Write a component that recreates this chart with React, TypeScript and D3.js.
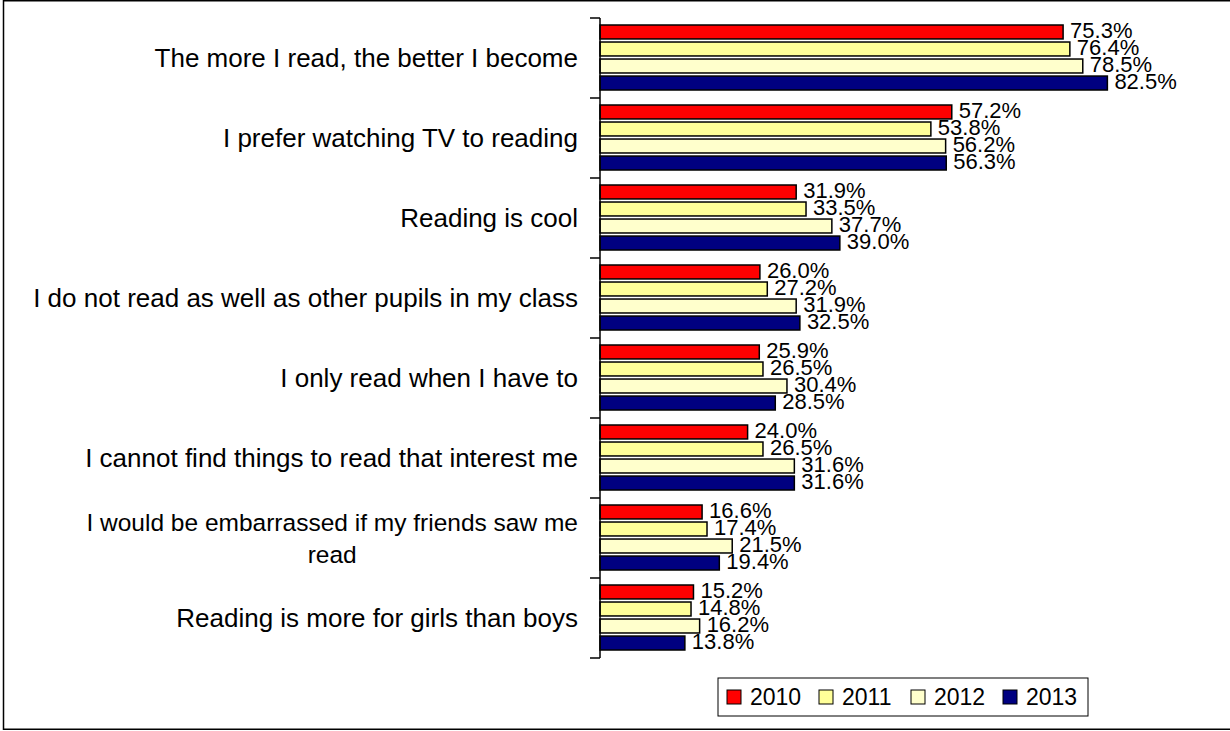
import React, { useEffect, useRef } from "react";
import * as d3 from "d3";

const categories: string[][] = [
  ["The more I read, the better I become"],
  ["I prefer watching TV to reading"],
  ["Reading is cool"],
  ["I do not read as well as other pupils in my class"],
  ["I only read when I have to"],
  ["I cannot find things to read that interest me"],
  ["I would be embarrassed if my friends saw me", "read"],
  ["Reading is more for girls than boys"],
];
const seriesNames = ["2010", "2011", "2012", "2013"];
const v2010 = [75.3, 57.2, 31.9, 26.0, 25.9, 24.0, 16.6, 15.2];
const v2011 = [76.4, 53.8, 33.5, 27.2, 26.5, 26.5, 17.4, 14.8];
const v2012 = [78.5, 56.2, 37.7, 31.9, 30.4, 31.6, 21.5, 16.2];
const v2013 = [82.5, 56.3, 39.0, 32.5, 28.5, 31.6, 19.4, 13.8];
const seriesValues = [v2010, v2011, v2012, v2013];
const colors = ["#FF0000", "#FFFF99", "#FFFFCC", "#000080"];

const W = 1230;
const H = 731;
const FONT = "'Liberation Sans', Arial, sans-serif";

export default function App() {
  const ref = useRef<SVGSVGElement | null>(null);
  useEffect(() => {
    const svg = d3.select(ref.current);
    svg.selectAll("*").remove();

    // outer border (right edge lies outside the picture)
    svg.append("rect").attr("x", 3.5).attr("y", 0.75).attr("width", W + 10).attr("height", H - 2.5)
      .attr("fill", "white").attr("stroke", "black").attr("stroke-width", 1.5);

    const x0 = 600;
    const x = d3.scaleLinear().domain([0, 100]).range([x0, x0 + 615]);
    const yOuter = d3.scaleBand<number>().domain(d3.range(categories.length)).range([18, 658]).padding(0);
    const yInner = d3.scaleBand<number>().domain(d3.range(seriesNames.length)).range([7, 72]).paddingInner(0.18);

    // bars
    seriesValues.forEach((vals, s) => {
      const g = svg.append("g");
      g.selectAll("rect").data(vals).enter().append("rect")
        .attr("x", x(0))
        .attr("y", (_d, i) => (yOuter(i) as number) + (yInner(s) as number))
        .attr("width", (d) => x(d) - x(0))
        .attr("height", yInner.bandwidth())
        .attr("fill", colors[s]).attr("stroke", "black").attr("stroke-width", 1.5);
    });
    // value labels
    seriesValues.forEach((vals, s) => {
      svg.append("g").selectAll("text").data(vals).enter().append("text")
        .attr("x", (d) => x(d) + 7)
        .attr("y", (_d, i) => (yOuter(i) as number) + (yInner(s) as number) + yInner.bandwidth() / 2 + 6)
        .attr("font-family", FONT).attr("font-size", 22).attr("fill", "black")
        .text((d) => d.toFixed(1) + "%");
    });

    // axis
    svg.append("line").attr("x1", x0).attr("x2", x0).attr("y1", 18).attr("y2", 658)
      .attr("stroke", "black").attr("stroke-width", 1.5);
    const ticks = d3.range(categories.length + 1).map((i) => 18 + i * yOuter.step());
    svg.append("g").selectAll("line").data(ticks).enter().append("line")
      .attr("x1", x0 - 10).attr("x2", x0).attr("y1", (d) => d).attr("y2", (d) => d)
      .attr("stroke", "black").attr("stroke-width", 1.5);

    // category labels
    const labelRight = 578;
    const cfs = 26;
    categories.forEach((lines, i) => {
      const cy = (yOuter(i) as number) + yOuter.bandwidth() / 2;
      if (lines.length === 1) {
        svg.append("text").attr("x", labelRight).attr("y", cy + 9).attr("text-anchor", "end")
          .attr("font-family", FONT).attr("font-size", cfs).text(lines[0]);
      } else {
        const lh = 32;
        const fs2 = 24.5;
        const t1 = svg.append("text").attr("x", labelRight).attr("y", cy + 9 - lh / 2).attr("text-anchor", "end")
          .attr("font-family", FONT).attr("font-size", fs2).text(lines[0]);
        const w1 = (t1.node() as SVGTextElement).getComputedTextLength();
        svg.append("text").attr("x", labelRight - w1 / 2).attr("y", cy + 9 + lh / 2).attr("text-anchor", "middle")
          .attr("font-family", FONT).attr("font-size", fs2).text(lines[1]);
      }
    });

    // legend
    const lg = svg.append("g");
    const lx = 718, ly = 678, lw = 370, lhh = 38;
    lg.append("rect").attr("x", lx).attr("y", ly).attr("width", lw).attr("height", lhh)
      .attr("fill", "white").attr("stroke", "black").attr("stroke-width", 1);
    const pitch = 92;
    seriesNames.forEach((name, s) => {
      const cx = lx + 9 + s * pitch;
      lg.append("rect").attr("x", cx).attr("y", ly + 12).attr("width", 14).attr("height", 14)
        .attr("fill", colors[s]).attr("stroke", "black").attr("stroke-width", 1);
      lg.append("text").attr("x", cx + 23).attr("y", ly + 27)
        .attr("font-family", FONT).attr("font-size", 23).text(name);
    });
  }, []);
  return (
    <svg ref={ref} width={W} height={H} style={{ position: "absolute", left: 0, top: 0, background: "white" }} />
  );
}
